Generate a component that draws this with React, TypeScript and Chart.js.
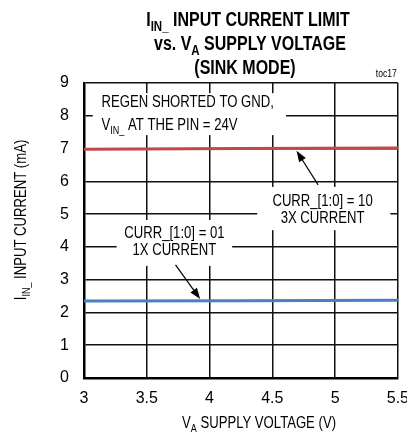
import { useEffect, useRef } from "react";
import { Chart, registerables } from "chart.js";

Chart.register(...registerables);

// ---- data ----
const xTickValues = [3, 3.5, 4, 4.5, 5, 5.5];
const xTickLabels = ["3", "3.5", "4", "4.5", "5", "5.5"];
const yTickLabels = ["0", "1", "2", "3", "4", "5", "6", "7", "8", "9"];
const supplyVoltage = [3, 4.25, 5.5];
const current3x = [6.98, 7.0, 7.02];
const current1x = [2.35, 2.36, 2.37];

const NARROW = '"Liberation Sans Narrow", "Arial Narrow", "Liberation Sans", Arial, sans-serif';
const SQUEEZE = 0.82;

type Seg = { t: string; sub?: boolean };

function drawRich(
  ctx: CanvasRenderingContext2D,
  segs: Seg[],
  x: number,
  y: number,
  size: number,
  weight: string,
  align: "left" | "center" | "right"
) {
  const mainFont = `${weight} ${size}px ${NARROW}`;
  const subFont = `${weight} ${Math.round(size * 0.7)}px ${NARROW}`;
  const widths = segs.map((s) => {
    ctx.font = s.sub ? subFont : mainFont;
    return ctx.measureText(s.t).width;
  });
  const total = widths.reduce((a, b) => a + b, 0);
  let cx = align === "center" ? -total / 2 : align === "right" ? -total : 0;
  ctx.save();
  ctx.translate(x, y);
  ctx.scale(SQUEEZE, 1);
  ctx.textAlign = "left";
  ctx.textBaseline = "alphabetic";
  ctx.fillStyle = "#000";
  segs.forEach((s, i) => {
    ctx.font = s.sub ? subFont : mainFont;
    ctx.fillText(s.t, cx, s.sub ? size * 0.25 : 0);
    cx += widths[i];
  });
  ctx.restore();
}

function arrow(ctx: CanvasRenderingContext2D, x1: number, y1: number, x2: number, y2: number) {
  const ang = Math.atan2(y2 - y1, x2 - x1);
  const len = 11;
  const hw = 4;
  ctx.save();
  ctx.strokeStyle = "#000";
  ctx.fillStyle = "#000";
  ctx.lineWidth = 1.2;
  ctx.beginPath();
  ctx.moveTo(x1, y1);
  ctx.lineTo(x2 - Math.cos(ang) * len * 0.8, y2 - Math.sin(ang) * len * 0.8);
  ctx.stroke();
  ctx.beginPath();
  ctx.moveTo(x2, y2);
  ctx.lineTo(x2 - Math.cos(ang) * len - Math.sin(ang) * hw, y2 - Math.sin(ang) * len + Math.cos(ang) * hw);
  ctx.lineTo(x2 - Math.cos(ang) * len + Math.sin(ang) * hw, y2 - Math.sin(ang) * len - Math.cos(ang) * hw);
  ctx.closePath();
  ctx.fill();
  ctx.restore();
}

const annotationPlugin = {
  id: "annotations",
  beforeDatasetsDraw(chart: any) {
    const ctx: CanvasRenderingContext2D = chart.ctx;
    const xs = chart.scales.x;
    const ys = chart.scales.y;
    const px = (v: number) => xs.getPixelForValue(v);
    const py = (v: number) => ys.getPixelForValue(v);
    const box = (x1: number, x2: number, y1: number, y2: number) => {
      ctx.fillStyle = "#fff";
      ctx.fillRect(px(x1), py(y1), px(x2) - px(x1), py(y2) - py(y1));
    };
    ctx.save();
    box(3.07, 4.61, 8.69, 7.41);
    box(4.38, 5.44, 5.83, 4.51);
    box(3.26, 4.18, 4.82, 3.42);

    drawRich(ctx, [{ t: "REGEN SHORTED TO GND," }], px(3.14), py(8.27), 16, "normal", "left");
    drawRich(
      ctx,
      [{ t: "V" }, { t: "IN_", sub: true }, { t: " AT THE PIN = 24V" }],
      px(3.14),
      py(7.57),
      16,
      "normal",
      "left"
    );
    drawRich(ctx, [{ t: "CURR_[1:0] = 10" }], px(4.9), py(5.25), 16, "normal", "center");
    drawRich(ctx, [{ t: "3X CURRENT" }], px(4.9), py(4.73), 16, "normal", "center");
    drawRich(ctx, [{ t: "CURR_[1:0] = 01" }], px(3.72), py(4.27), 16, "normal", "center");
    drawRich(ctx, [{ t: "1X CURRENT" }], px(3.72), py(3.75), 16, "normal", "center");

    arrow(ctx, px(4.865), py(5.89), px(4.693), py(6.93));
    arrow(ctx, px(3.729), py(3.45), px(3.925), py(2.41));
    ctx.restore();
  },
  afterDraw(chart: any) {
    const ctx: CanvasRenderingContext2D = chart.ctx;
    const area = chart.chartArea;
    ctx.save();
    // Title
    drawRich(ctx, [{ t: "I" }, { t: "IN_", sub: true }, { t: " INPUT CURRENT LIMIT" }], 248, 26, 19.5, "bold", "center");
    drawRich(ctx, [{ t: "vs. V" }, { t: "A", sub: true }, { t: " SUPPLY VOLTAGE" }], 250, 50, 19.5, "bold", "center");
    drawRich(ctx, [{ t: "(SINK MODE)" }], 245, 74, 19.5, "bold", "center");
    drawRich(ctx, [{ t: "toc17" }], area.right - 1, area.top - 6, 10.5, "normal", "right");
    // X axis title
    drawRich(ctx, [{ t: "V" }, { t: "A", sub: true }, { t: " SUPPLY VOLTAGE (V)" }], 259, 428, 16, "normal", "center");
    // Y axis title
    ctx.translate(20, 220);
    ctx.rotate(-Math.PI / 2);
    drawRich(ctx, [{ t: "I" }, { t: "IN_", sub: true }, { t: " INPUT CURRENT (mA)" }], 0, 5.5, 16, "normal", "center");
    ctx.restore();
  },
};

export default function App() {
  const ref = useRef<HTMLCanvasElement>(null);
  useEffect(() => {
    const canvas = ref.current;
    if (!canvas) return;
    const tickFont = { family: NARROW, size: 16 };
    const chart = new Chart(canvas, {
      type: "line",
      data: {
        datasets: [
          {
            label: "CURR_[1:0] = 10, 3X CURRENT",
            data: supplyVoltage.map((v, i) => ({ x: v, y: current3x[i] })),
            borderColor: "#c4474a",
            borderWidth: 3,
            pointRadius: 0,
            tension: 0,
          },
          {
            label: "CURR_[1:0] = 01, 1X CURRENT",
            data: supplyVoltage.map((v, i) => ({ x: v, y: current1x[i] })),
            borderColor: "#4a7fc1",
            borderWidth: 3,
            pointRadius: 0,
            tension: 0,
          },
        ],
      },
      options: {
        responsive: false,
        animation: false,
        events: [],
        layout: { padding: { left: 0, top: 83, right: 17, bottom: 0 } },
        plugins: { legend: { display: false }, title: { display: false }, tooltip: { enabled: false } },
        scales: {
          x: {
            type: "linear",
            min: 3,
            max: 5.5,
            afterBuildTicks: (s: any) => {
              s.ticks = xTickValues.map((v) => ({ value: v }));
            },
            afterFit: (s: any) => {
              s.height = 59;
            },
            ticks: {
              font: tickFont,
              color: "#000",
              padding: 11,
              maxRotation: 0,
              autoSkip: false,
              callback: (_v: any, i: number) => xTickLabels[i],
            },
            grid: { color: "#111", lineWidth: 1.5, drawTicks: false },
            border: { color: "#000", width: 2.5 },
          },
          y: {
            type: "linear",
            min: 0,
            max: 9,
            ticks: {
              font: tickFont,
              color: "#000",
              padding: 15,
              stepSize: 1,
              callback: (_v: any, i: number) => yTickLabels[i],
            },
            afterFit: (s: any) => {
              s.width = 84;
            },
            grid: { color: "#111", lineWidth: 1.5, drawTicks: false },
            border: { color: "#000", width: 2.5 },
          },
        },
      },
      plugins: [annotationPlugin],
    } as any);
    return () => chart.destroy();
  }, []);
  return (
    <div
      style={{
        position: "absolute",
        left: 0,
        top: 0,
        width: 407,
        height: 437,
        overflow: "hidden",
        background: "#fff",
      }}
    >
      <canvas ref={ref} width={420} height={437} style={{ width: 420, height: 437, display: "block" }} />
    </div>
  );
}
